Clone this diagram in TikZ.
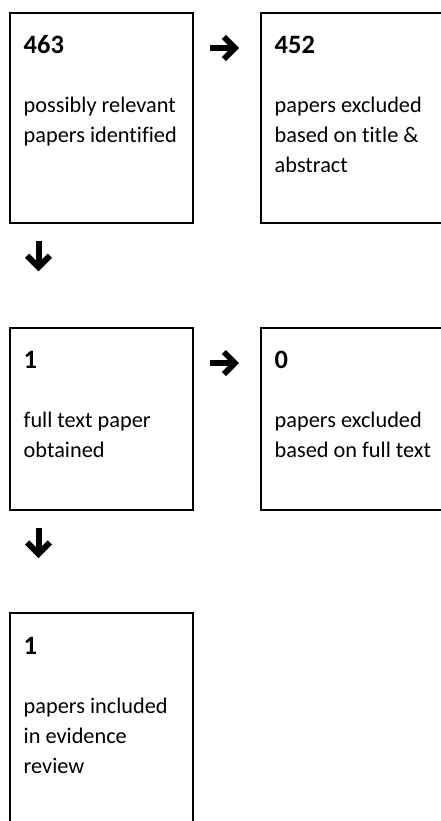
\documentclass[tikz,border=0pt]{standalone}
\usepackage{fontspec}
\setmainfont[Ligatures=NoCommon]{Carlito}
\usetikzlibrary{calc}
\tikzset{
  box/.style={draw=black, line width=2pt, rectangle, inner sep=0pt, outer sep=0pt, minimum width=183.8pt},
  numtext/.style={anchor=base west, inner sep=0pt, font=\fontsize{26.5}{30}\selectfont\bfseries},
  bodytext/.style={anchor=north west, inner sep=0pt, align=left, font=\fontsize{22.3}{30}\selectfont},
  darrow/.pic={
    \fill (-3,-15) rectangle (3,8);
    \fill (0,15) -- (-13.5,1.5) -- (-9.3,-2.7) -- (0,6.5) -- (9.3,-2.7) -- (13.5,1.5) -- cycle;
  },
  rarrow/.pic={
    \fill (-14.5,-3) rectangle (8,3);
    \fill (14.5,0) -- (1.5,-13) -- (-2.7,-9) -- (6.5,0) -- (-2.7,9) -- (1.5,13) -- cycle;
  }
}
\newcommand{\fl}{\rule{0pt}{18pt}}
\begin{document}
\begin{tikzpicture}[x=1pt,y=-1pt]
\useasboundingbox (0,0) rectangle (441,821);
\clip (0,0) rectangle (441,821);
\fill[white] (0,0) rectangle (441,821);
% boxes
\node[box, minimum height=210.6pt] (b1) at (101.4,118) {};
\node[box, minimum height=210.6pt] (b2) at (352.4,118) {};
\node[box, minimum height=182.3pt] (b3) at (101.4,418.9) {};
\node[box, minimum height=182.3pt] (b4) at (352.4,418.9) {};
\node[box, minimum height=210.6pt] (b5) at (101.4,718.3) {};
% texts
\node[numtext] (n1) at ($(b1.north west)+(14,41)$) {463};
\node[bodytext] (t1) at ($(b1.north west)+(14,82)$) {\fl possibly relevant\\papers identified};
\node[numtext] (n2) at ($(b2.north west)+(14,41)$) {452};
\node[bodytext] (t2) at ($(b2.north west)+(14,82)$) {\fl papers excluded\\based on title \&\\abstract};
\node[numtext] (n3) at ($(b3.north west)+(14,41)$) {1};
\node[bodytext] (t3) at ($(b3.north west)+(14,82)$) {\fl full text paper\\obtained};
\node[numtext] (n4) at ($(b4.north west)+(14,41)$) {0};
\node[bodytext] (t4) at ($(b4.north west)+(14,82)$) {\fl papers excluded\\based on full text};
\node[numtext] (n5) at ($(b5.north west)+(14,41)$) {1};
\node[bodytext] (t5) at ($(b5.north west)+(14,82)$) {\fl papers included\\in evidence\\review};
% arrows
\pic at ($(b1.north east)+(31.2,35.3)$) {rarrow};
\pic at ($(b3.north east)+(31.2,35.3)$) {rarrow};
\pic at ($(b1.south west)+(29,33)$) {darrow};
\pic at ($(b3.south west)+(29,33)$) {darrow};
\end{tikzpicture}
\end{document}
